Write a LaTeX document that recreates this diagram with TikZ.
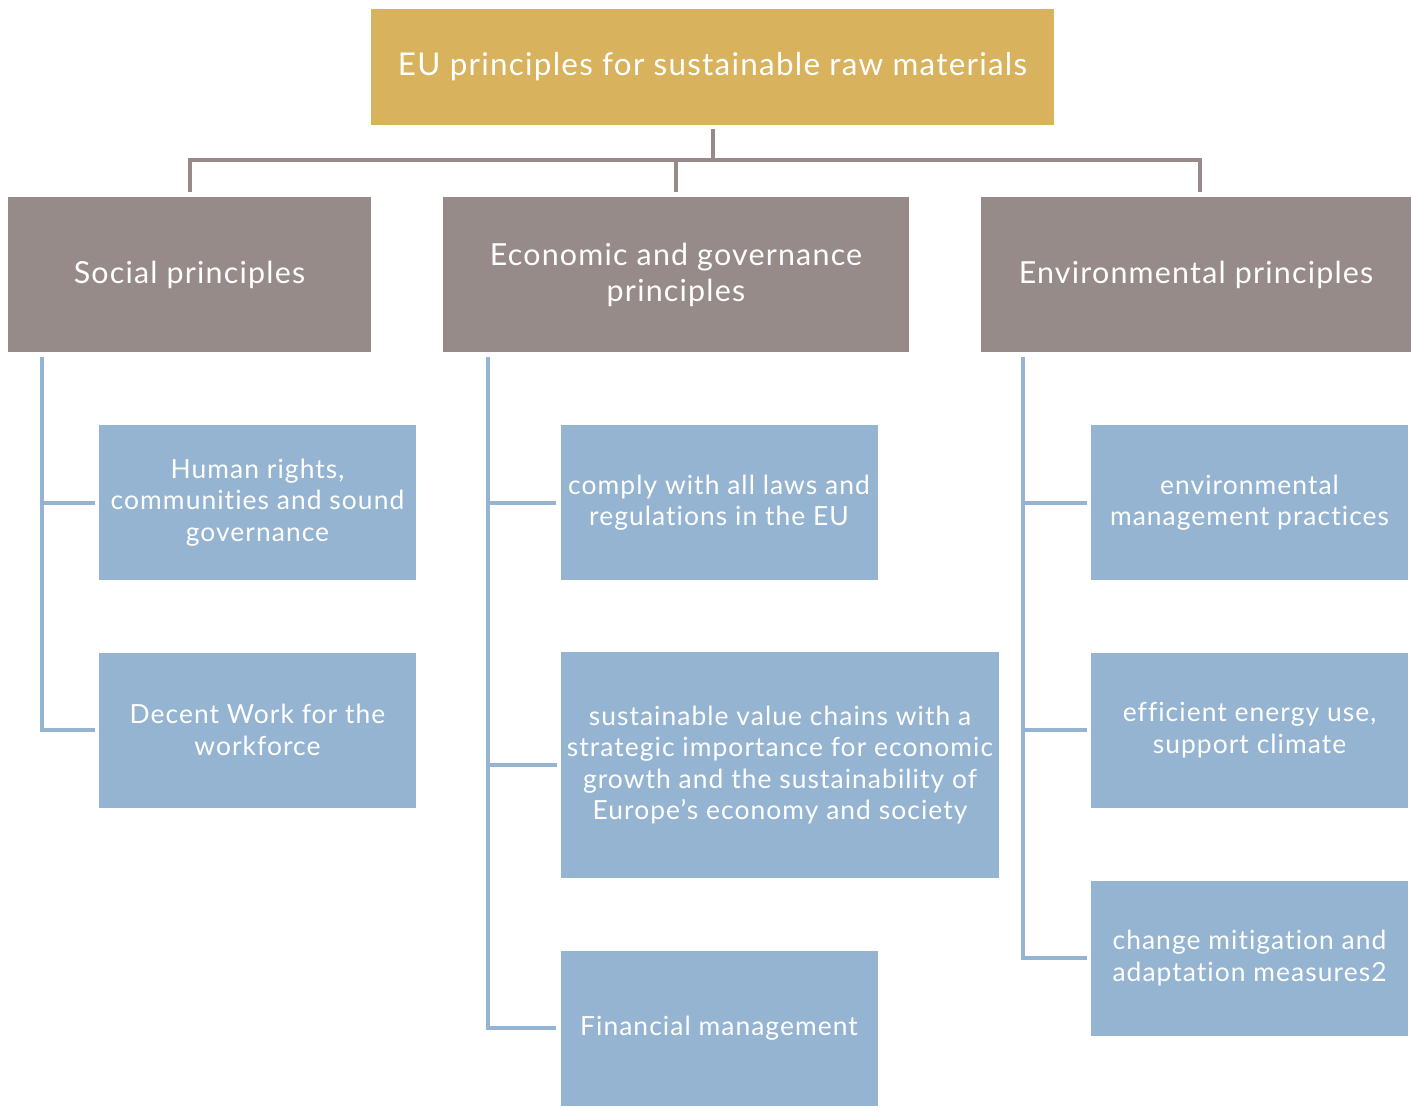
\documentclass[tikz,border=0pt]{standalone}
\usepackage{fontspec}
\setmainfont{Lato}[LetterSpace=4, Ligatures={NoCommon}]
\definecolor{gold}{HTML}{D8B25C}
\definecolor{taupe}{HTML}{978B89}
\definecolor{sky}{HTML}{95B4D2}
\begin{document}
\begin{tikzpicture}[x=0.5pt,y=-0.5pt,
  box/.style={rectangle, inner sep=0pt, align=center, text=white},
  rootbox/.style={box, fill=gold, minimum width=341.5pt, minimum height=58pt,
    font=\fontsize{15.7}{18}\selectfont},
  headbox/.style={box, fill=taupe, minimum height=77.5pt,
    font=\fontsize{15.2}{18}\selectfont},
  leafbox/.style={box, fill=sky, minimum width=158.5pt, minimum height=77.5pt,
    font=\fontsize{13.2}{15.75}\selectfont},
  gline/.style={draw=taupe, line width=2pt},
  bline/.style={draw=sky, line width=2pt}]
\useasboundingbox (0,0) rectangle (1412,1110);

% title
\node[rootbox] (top) at (712.5,67) {EU principles for sustainable raw materials};

% three pillars
\node[headbox, minimum width=181.5pt] (soc) at (189.5,274.5) {Social principles};
\node[headbox, minimum width=233pt] (eco) at (676,274.5) {Economic and governance\\principles};
\node[headbox, minimum width=215pt] (env) at (1196,274.5) {Environmental principles};

% social leaves
\node[leafbox] (s1) at (257.5,502.5) {Human rights,\\communities and sound\\governance};
\node[leafbox] (s2) at (257.5,730) {Decent Work for the\\workforce};

% economic leaves
\node[leafbox] (e1) at (719,502.5) {comply with all laws and\\regulations in the EU};
\node[leafbox, minimum width=219pt, minimum height=113pt] (e2) at (780,765)
  {sustainable value chains with a\\strategic importance for economic\\growth and the sustainability of\\Europe’s economy and society};
\node[leafbox] (e3) at (719,1028) {Financial management};

% environmental leaves
\node[leafbox] (v1) at (1249.5,502.5) {environmental\\management practices};
\node[leafbox] (v2) at (1249.5,730) {efficient energy use,\\support climate};
\node[leafbox] (v3) at (1249.5,958) {change mitigation and\\adaptation measures2};

% top-level connectors
\coordinate (hub) at (712.5,160);
\draw[gline, shorten <=2pt] (top.south) -- (hub);
\draw[gline, shorten >=2.5pt] (hub) -| (soc.north);
\draw[gline, shorten >=2.5pt] (hub) -| (eco.north);
\draw[gline, shorten >=2.5pt] (hub) -| ([xshift=2pt]env.north);

% social branch
\coordinate (sr) at (42,357);
\draw[bline, shorten >=2pt] (sr) |- (s2.west);
\draw[bline, shorten >=2pt] (sr |- s1.west) -- (s1.west);

% economic branch
\coordinate (er) at (488,357);
\draw[bline, shorten >=2pt] (er) |- (e3.west);
\draw[bline, shorten >=2pt] (er |- e1.west) -- (e1.west);
\draw[bline, shorten >=2pt] (er |- e2.west) -- (e2.west);

% environmental branch
\coordinate (vr) at (1023,357);
\draw[bline, shorten >=2pt] (vr) |- (v3.west);
\draw[bline, shorten >=2pt] (vr |- v1.west) -- (v1.west);
\draw[bline, shorten >=2pt] (vr |- v2.west) -- (v2.west);
\end{tikzpicture}
\end{document}
